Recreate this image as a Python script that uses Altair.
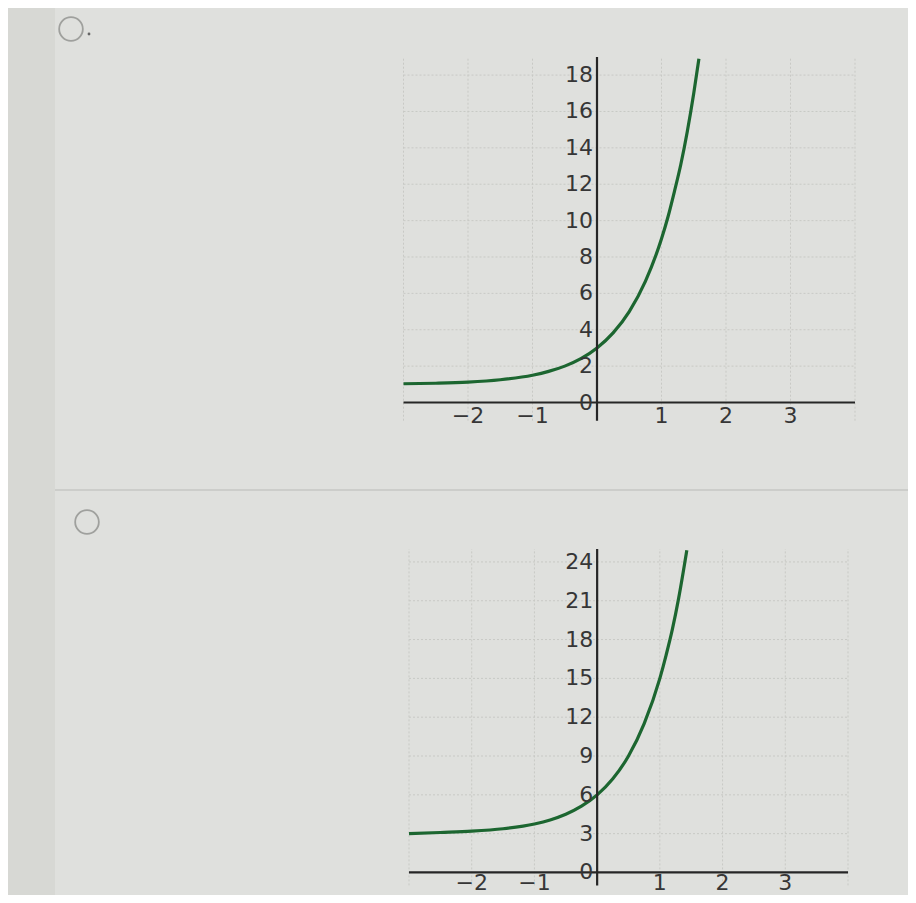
import altair as alt
import pandas as pd

# ---- data ----
# upper option
top_x = [-3.0, -2.5, -2.0, -1.5, -1.0, -0.75, -0.5, -0.25, 0.0, 0.25, 0.5, 0.75, 1.0, 1.1, 1.2, 1.3, 1.4, 1.5, 1.58]
top_y = [1.03, 1.06, 1.12, 1.25, 1.5, 1.71, 2.0, 2.41, 3.0, 3.83, 5.0, 6.66, 9.0, 10.2, 11.6, 13.1, 14.9, 17.0, 18.9]
top_yticks = [0, 2, 4, 6, 8, 10, 12, 14, 16, 18]

# lower option
bot_x = [-3.0, -2.5, -2.0, -1.5, -1.0, -0.75, -0.5, -0.25, 0.0, 0.25, 0.5, 0.75, 1.0, 1.1, 1.2, 1.3, 1.43]
bot_y = [3.0, 3.09, 3.19, 3.38, 3.75, 4.06, 4.5, 5.12, 6.0, 7.24, 9.0, 11.5, 15.0, 16.8, 18.8, 21.2, 24.9]
bot_yticks = [0, 3, 6, 9, 12, 15, 18, 21, 24]

x_ticks = [-2, -1, 1, 2, 3]
x_tick_labels = ["\u22122", "\u22121", "1", "2", "3"]
x_grid = [-3, -2, -1, 1, 2, 3, 4]

FONT = "DejaVu Sans"
BG = "#dfe0dd"
GRID = "#c8c9c5"
AXIS = "#262626"
CURVE = "#1c6630"
LABEL = "#363636"


def panel(xs, ys, yticks, ydom, xrange_px, yrange_px, xlab_dy, extras):
    xs_ = alt.Scale(domain=[-3, 4], range=xrange_px, nice=False, zero=False)
    ys_ = alt.Scale(domain=ydom, range=yrange_px, nice=False, zero=False)
    curve = pd.DataFrame({"x": xs, "y": ys})
    ytk = pd.DataFrame({"v": yticks, "lab": [str(t) for t in yticks]})
    xtk = pd.DataFrame({"v": x_ticks, "lab": x_tick_labels})
    xg = pd.DataFrame({"v": x_grid, "y0": ydom[0], "y1": ydom[1]})
    hg = pd.DataFrame({"v": [t for t in yticks if t != 0], "x0": -3, "x1": 4})
    xa = pd.DataFrame({"v": [0], "x0": [-3], "x1": [4]})
    ya = pd.DataFrame({"v": [0], "y0": [ydom[0]], "y1": [ydom[1]]})

    hgrid = alt.Chart(hg).mark_rule(color=GRID, strokeWidth=1, strokeDash=[2, 2]).encode(
        y=alt.Y("v:Q", scale=ys_, axis=None),
        x=alt.X("x0:Q", scale=xs_, axis=None),
        x2="x1:Q",
    )
    vgrid = alt.Chart(xg).mark_rule(color=GRID, strokeWidth=1, strokeDash=[2, 2]).encode(
        x=alt.X("v:Q", scale=xs_, axis=None),
        y=alt.Y("y0:Q", scale=ys_, axis=None),
        y2="y1:Q",
    )
    xaxis = alt.Chart(xa).mark_rule(color=AXIS, strokeWidth=2.2).encode(
        y=alt.Y("v:Q", scale=ys_, axis=None),
        x=alt.X("x0:Q", scale=xs_, axis=None),
        x2="x1:Q",
    )
    yaxis = alt.Chart(ya).mark_rule(color=AXIS, strokeWidth=2.2).encode(
        x=alt.X("v:Q", scale=xs_, axis=None),
        y=alt.Y("y0:Q", scale=ys_, axis=None),
        y2="y1:Q",
    )
    line = alt.Chart(curve).mark_line(color=CURVE, strokeWidth=3.2, interpolate="monotone").encode(
        x=alt.X("x:Q", scale=xs_, axis=None),
        y=alt.Y("y:Q", scale=ys_, axis=None),
    )
    ytk["x0"] = 0
    ylabels = alt.Chart(ytk).mark_text(
        align="right", baseline="middle", dx=-4, font=FONT, fontSize=22, color=LABEL
    ).encode(
        x=alt.X("x0:Q", scale=xs_, axis=None),
        y=alt.Y("v:Q", scale=ys_, axis=None),
        text="lab:N",
    )
    xtk["y0"] = 0
    xlabels = alt.Chart(xtk).mark_text(
        align="center", baseline="middle", dy=xlab_dy, font=FONT, fontSize=22, color=LABEL
    ).encode(
        x=alt.X("v:Q", scale=xs_, axis=None),
        y=alt.Y("y0:Q", scale=ys_, axis=None),
        text="lab:N",
    )
    return alt.layer(*extras, hgrid, vgrid, line, xaxis, yaxis, ylabels, xlabels)


one = pd.DataFrame({"k": [0]})
strip = alt.Chart(one).mark_rect(color="#d7d8d4").encode(
    x=alt.value(0), x2=alt.value(47), y=alt.value(0), y2=alt.value(887)
)
separator = alt.Chart(one).mark_rule(color="#c6c7c3", strokeWidth=1.5).encode(
    x=alt.value(47), x2=alt.value(900), y=alt.value(482)
)
radio1 = alt.Chart(one).mark_point(shape="circle", filled=False, size=560, color="#858683", strokeWidth=1.8).encode(
    x=alt.value(63), y=alt.value(21)
)
dot1 = alt.Chart(one).mark_point(shape="circle", filled=True, size=8, color="#666666", opacity=1).encode(
    x=alt.value(81), y=alt.value(26)
)
radio2 = alt.Chart(one).mark_point(shape="circle", filled=False, size=560, color="#858683", strokeWidth=1.8).encode(
    x=alt.value(79), y=alt.value(514)
)

top_panel = panel(top_x, top_y, top_yticks, [-1, 19], [395.5, 847], [412.7, 48.9], 13,
                  [strip, separator, radio1, dot1])
bot_panel = panel(bot_x, bot_y, bot_yticks, [-1, 25], [401, 840], [877.4, 541], 11,
                  [radio2])

chart = alt.layer(top_panel, bot_panel).resolve_scale(
    x="independent", y="independent"
).properties(
    width=900, height=887, padding=0, autosize=alt.AutoSizeParams(type="none"), background=BG
).configure_view(strokeWidth=0)

chart.save("out.html", embed_options={"renderer": "svg", "actions": False})
